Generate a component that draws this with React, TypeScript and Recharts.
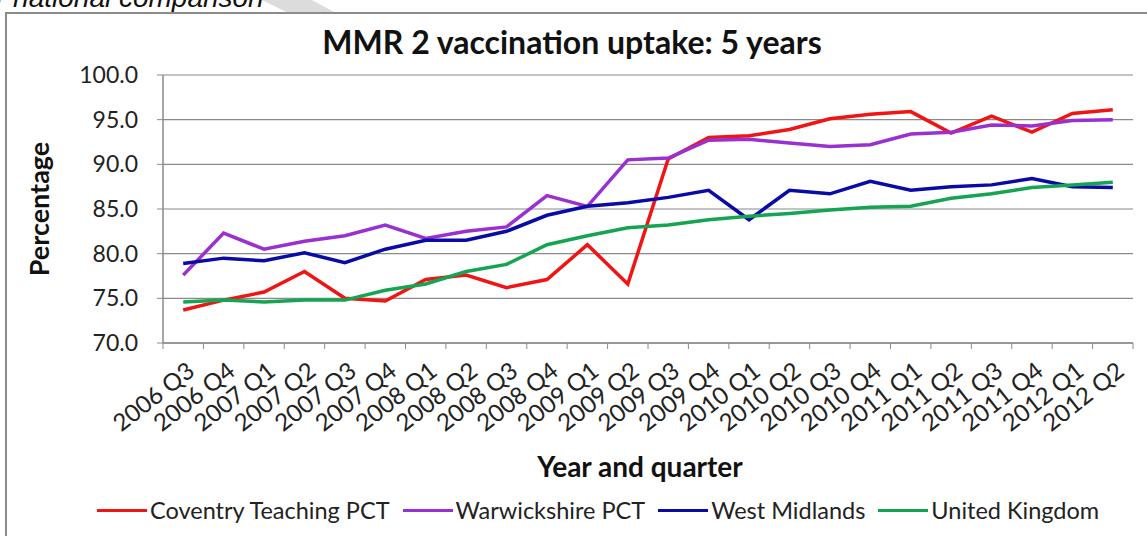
import React from "react";
import { LineChart, Line, XAxis, YAxis, CartesianGrid } from "recharts";

const quarters = [
  "2006 Q3", "2006 Q4", "2007 Q1", "2007 Q2", "2007 Q3", "2007 Q4",
  "2008 Q1", "2008 Q2", "2008 Q3", "2008 Q4", "2009 Q1", "2009 Q2",
  "2009 Q3", "2009 Q4", "2010 Q1", "2010 Q2", "2010 Q3", "2010 Q4",
  "2011 Q1", "2011 Q2", "2011 Q3", "2011 Q4", "2012 Q1", "2012 Q2",
];

const coventry = [73.7, 74.8, 75.7, 78.0, 75.0, 74.7, 77.1, 77.6, 76.2, 77.1, 81.0, 76.6, 90.6, 93.0, 93.2, 93.9, 95.1, 95.6, 95.9, 93.5, 95.4, 93.6, 95.7, 96.1];
const warwickshire = [77.6, 82.3, 80.5, 81.4, 82.0, 83.2, 81.7, 82.5, 83.0, 86.5, 85.3, 90.5, 90.7, 92.7, 92.8, 92.4, 92.0, 92.2, 93.4, 93.6, 94.4, 94.3, 94.9, 95.0];
const westMidlands = [78.9, 79.5, 79.2, 80.1, 79.0, 80.5, 81.5, 81.5, 82.5, 84.3, 85.3, 85.7, 86.3, 87.1, 83.8, 87.1, 86.7, 88.1, 87.1, 87.5, 87.7, 88.4, 87.5, 87.4];
const unitedKingdom = [74.6, 74.8, 74.6, 74.8, 74.8, 75.9, 76.6, 78.0, 78.8, 81.0, 82.0, 82.9, 83.2, 83.8, 84.2, 84.5, 84.9, 85.2, 85.3, 86.2, 86.7, 87.4, 87.7, 88.0];

const yTicks = [70, 75, 80, 85, 90, 95, 100];

const series = [
  { key: "coventry", name: "Coventry Teaching PCT", color: "#f01414", values: coventry },
  { key: "warwickshire", name: "Warwickshire PCT", color: "#9a30d0", values: warwickshire },
  { key: "westMidlands", name: "West Midlands", color: "#0a0aa6", values: westMidlands },
  { key: "unitedKingdom", name: "United Kingdom", color: "#14a452", values: unitedKingdom },
];

const data = quarters.map((q, i) => {
  const row: Record<string, string | number> = { quarter: q };
  series.forEach((s) => (row[s.key] = s.values[i]));
  return row;
});

const W = 1147;
const H = 536;
const PLOT_LEFT = 163;
const PLOT_RIGHT = 1133;
const PLOT_TOP = 75;
const PLOT_BOTTOM = 343;
const BAND = (PLOT_RIGHT - PLOT_LEFT) / quarters.length;
const AXIS = "#8a8a8a";
const FONT = "Lato, 'Open Sans', sans-serif";

// category labels sit between boundary ticks, like the spreadsheet original
function QuarterTick({ x, y, payload, index }: any) {
  const half = BAND / 2;
  const tx = x + 13;
  const ty = y + 31;
  return (
    <g>
      <line x1={x - half} y1={y} x2={x - half} y2={y + 6} stroke={AXIS} />
      {index === quarters.length - 1 && <line x1={x + half} y1={y} x2={x + half} y2={y + 6} stroke={AXIS} />}
      <text x={tx} y={ty} transform={`rotate(-38, ${tx}, ${ty})`} textAnchor="end" fontSize={24} fill="#222" fontFamily={FONT}>
        {payload.value}
      </text>
    </g>
  );
}

export default function App() {
  return (
    <div style={{ position: "absolute", left: 0, top: 0, width: W, height: H, background: "#fff", overflow: "hidden", fontFamily: FONT }}>
      <svg width={W} height={20} style={{ position: "absolute", left: 0, top: 0 }}>
        <polygon points="262,0 312,0 334,12 286,12" fill="#dcdcdc" />
      </svg>
      <div style={{ position: "absolute", left: -4, top: -18, fontFamily: "'Liberation Sans', Arial, sans-serif", fontStyle: "italic", fontSize: 28, color: "#111", whiteSpace: "nowrap" }}>
        r national comparison
      </div>
      <div style={{ position: "absolute", left: 5, top: 12, width: 1160, height: 540, borderLeft: "2px solid #8c8c8c", borderTop: "2px solid #8c8c8c", background: "#fff" }} />

      <div style={{ position: "absolute", left: 0, top: 0 }}>
        <LineChart
          width={W}
          height={H}
          data={data}
          margin={{ top: PLOT_TOP, right: W - PLOT_RIGHT, bottom: H - PLOT_BOTTOM - 60, left: PLOT_LEFT - 80 }}
        >
          <CartesianGrid vertical={false} stroke={AXIS} strokeWidth={1.2} />
          <XAxis
            dataKey="quarter"
            interval={0}
            height={60}
            padding={{ left: BAND / 2, right: BAND / 2 }}
            tickLine={false}
            tickSize={0}
            tickMargin={0}
            axisLine={{ stroke: AXIS, strokeWidth: 1.5 }}
            tick={<QuarterTick />}
          />
          <XAxis xAxisId="top" dataKey="quarter" orientation="top" height={0} tick={false} tickLine={false} axisLine={{ stroke: "#000", strokeWidth: 1.2 }} />
          <YAxis
            domain={[70, 100]}
            ticks={yTicks}
            width={80}
            tickSize={6}
            tickMargin={19}
            tickFormatter={(v: number) => v.toFixed(1)}
            tick={{ fill: "#222", fontSize: 23, fontFamily: FONT }}
            tickLine={{ stroke: AXIS }}
            axisLine={{ stroke: AXIS, strokeWidth: 1.5 }}
          />
          <YAxis yAxisId="right" orientation="right" domain={[70, 100]} width={0} tick={false} tickLine={false} axisLine={{ stroke: "#000", strokeWidth: 1.5 }} />
          {series.map((s) => (
            <Line
              key={s.key}
              dataKey={s.key}
              name={s.name}
              type="linear"
              stroke={s.color}
              strokeWidth={3.5}
              dot={false}
              isAnimationActive={false}
            />
          ))}
        </LineChart>
      </div>

      <div style={{ position: "absolute", left: 0, width: 1144, top: 22, textAlign: "center", fontSize: 32, fontWeight: 700, color: "#111" }}>
        MMR 2 vaccination uptake: 5 years
      </div>
      <div style={{ position: "absolute", left: 38, top: 209, transform: "translate(-50%, -50%) rotate(-90deg)", fontSize: 27, fontWeight: 700, color: "#111", whiteSpace: "nowrap" }}>
        Percentage
      </div>
      <div style={{ position: "absolute", left: 0, width: 1280, top: 449, textAlign: "center", fontSize: 28, fontWeight: 700, color: "#111" }}>
        Year and quarter
      </div>
      <div style={{ position: "absolute", left: 97, top: 496, display: "flex", alignItems: "center", fontSize: 23.5, color: "#222", whiteSpace: "nowrap" }}>
        {series.map((s) => (
          <div key={s.key} style={{ display: "flex", alignItems: "center", marginRight: 13 }}>
            <div style={{ width: 50, height: 3, background: s.color, marginRight: 3 }} />
            <span>{s.name}</span>
          </div>
        ))}
      </div>
    </div>
  );
}
